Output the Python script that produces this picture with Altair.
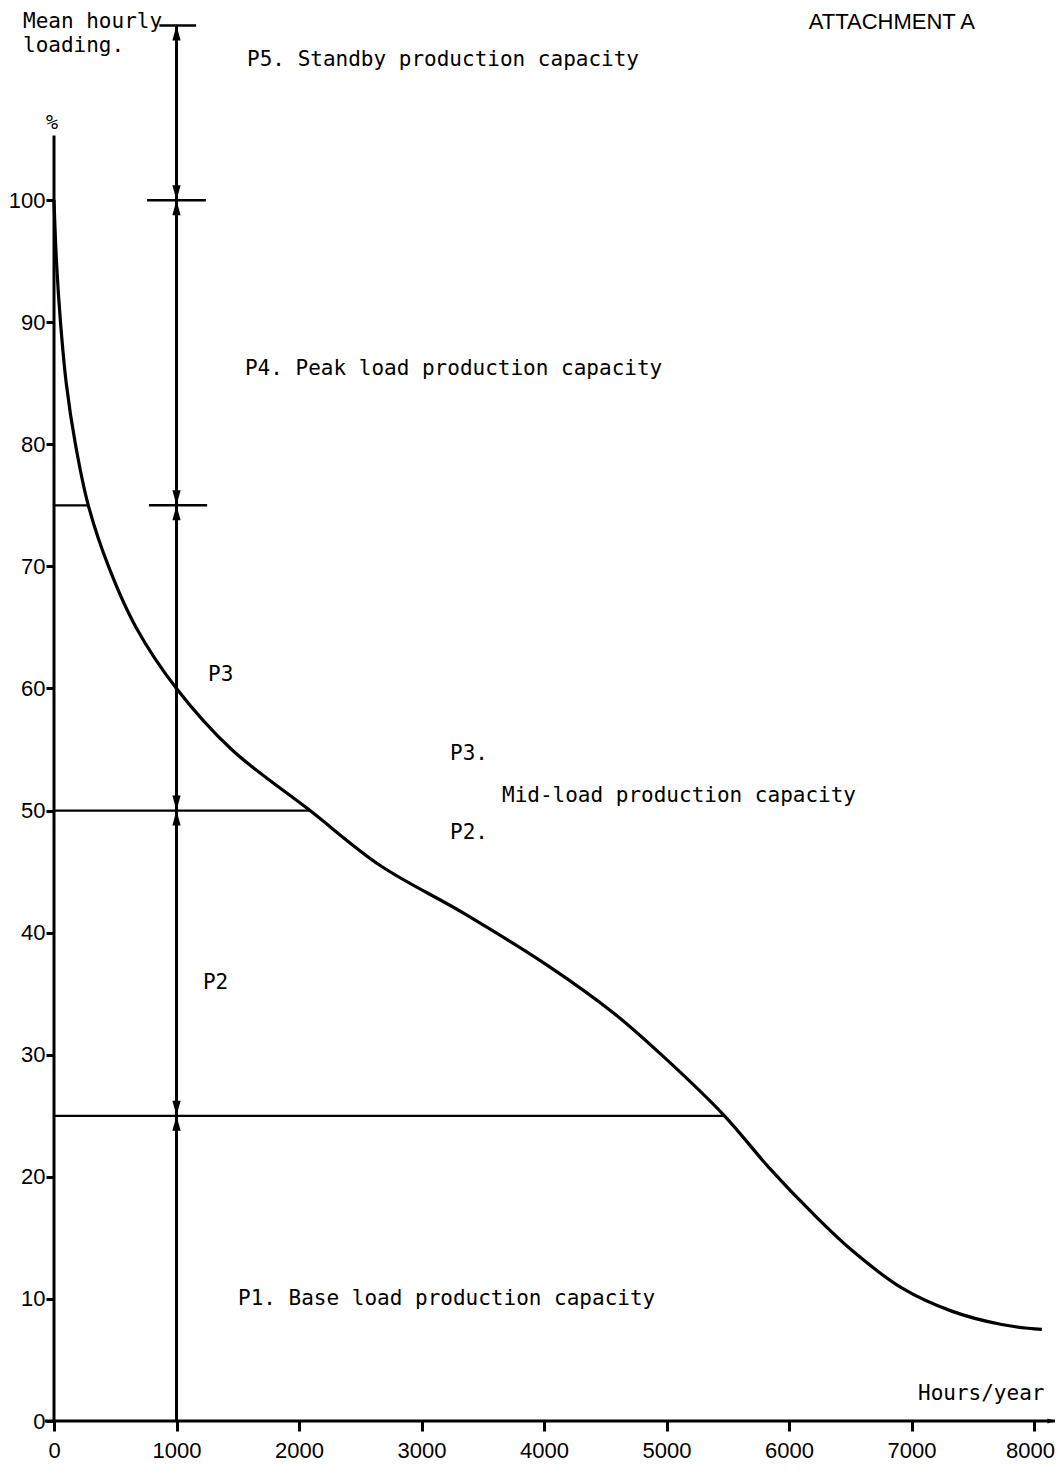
import altair as alt
import pandas as pd

# Load-duration curve (hours/year, mean hourly loading %)
curve_hours = [0, 20, 53, 100, 175, 280, 445, 670, 1000, 1450, 2090, 2663, 3343,
               4031, 4570, 4980, 5473, 5833, 6184, 6511, 6920, 7328, 7737, 8064]
curve_load = [100, 95, 90, 85, 80, 75, 70, 65, 60, 55, 50, 45.5, 41.6,
              37.3, 33.4, 29.8, 25, 20.8, 17.1, 14.0, 10.9, 9.0, 7.9, 7.5]

# Horizontal capacity boundaries, from the axis to the curve
level_pct = [75, 50, 25]
level_end_hours = [280, 2090, 5473]

# Vertical dimension line at 1000 h with its cross bars
marker_hours = 1000
marker_top = 114.3
bar_levels = [114.3, 100, 75]
bar_from = [860, 760, 775]
bar_to = [1160, 1240, 1250]

# Arrowheads on the dimension line
arrow_up_levels = [25, 50, 75, 100, 114.3]
arrow_down_levels = [25, 50, 75, 100]

# Axis lines
y_axis_top = 105.3
x_axis_from = -74
x_axis_to = 8175

x_ticks = [0, 1000, 2000, 3000, 4000, 5000, 6000, 7000, 8000]
y_ticks = [0, 10, 20, 30, 40, 50, 60, 70, 80, 90, 100]

# Annotations (hours, %, text)
note_text = ["Mean hourly", "loading.", "P5. Standby production capacity",
             "P4. Peak load production capacity", "P3", "P3.",
             "Mid-load production capacity", "P2.", "P2",
             "P1. Base load production capacity", "Hours/year"]
note_hours = [-253, -253, 1576, 1559, 1257, 3233, 3657, 3233, 1216, 1502, 7053]
note_pct = [114.55, 112.6, 111.5, 86.2, 61.1, 54.6, 51.2, 48.2, 35.9, 10.0, 2.25]

MONO = "DejaVu Sans Mono"
SANS = "Liberation Sans"

xs = alt.Scale(domain=[0, 8000], nice=False, zero=False)
ys = alt.Scale(domain=[0, 115], nice=False, zero=False)
x_axis = alt.Axis(values=x_ticks, format="d", title=None, grid=False, domain=False,
                  tickSize=10, tickWidth=3, tickColor="black",
                  labelFont=SANS, labelFontSize=22, labelColor="black",
                  labelPadding=9, labelFlush=False, labelOverlap=False,
                  labelOffset={"condition": {"test": "datum.value >= 8000", "value": -4},
                               "value": 0})
y_axis = alt.Axis(values=y_ticks, format="d", title=None, grid=False, domain=False,
                  tickSize=8, tickWidth=3, tickColor="black",
                  labelFont=SANS, labelFontSize=22, labelColor="black",
                  labelPadding=1, labelOverlap=False)


def X(f):
    return alt.X(f, type="quantitative", scale=xs, axis=x_axis)


def Y(f):
    return alt.Y(f, type="quantitative", scale=ys, axis=y_axis)


df_curve = pd.DataFrame({"h": curve_hours, "p": curve_load})
curve = alt.Chart(df_curve).mark_line(
    color="black", strokeWidth=3.2, interpolate="catmull-rom"
).encode(x=X("h"), y=Y("p"))

df_levels = pd.DataFrame({"h": [0] * len(level_pct), "h2": level_end_hours, "p": level_pct})
levels = alt.Chart(df_levels).mark_rule(color="black", strokeWidth=2.2).encode(
    x=X("h"), x2="h2", y=Y("p"))

df_bars = pd.DataFrame({"h": bar_from, "h2": bar_to, "p": bar_levels})
bars = alt.Chart(df_bars).mark_rule(color="black", strokeWidth=2.5).encode(
    x=X("h"), x2="h2", y=Y("p"))

df_vert = pd.DataFrame({"h": [marker_hours], "p": [0], "p2": [marker_top]})
vert = alt.Chart(df_vert).mark_rule(color="black", strokeWidth=3).encode(
    x=X("h"), y=Y("p"), y2="p2")

df_yax = pd.DataFrame({"h": [0], "p": [0], "p2": [y_axis_top]})
yax = alt.Chart(df_yax).mark_rule(color="black", strokeWidth=3).encode(
    x=X("h"), y=Y("p"), y2="p2")

df_xax = pd.DataFrame({"h": [x_axis_from], "h2": [x_axis_to], "p": [0]})
xax = alt.Chart(df_xax).mark_rule(color="black", strokeWidth=3).encode(
    x=X("h"), x2="h2", y=Y("p"))

df_xarrow = pd.DataFrame({"h": [x_axis_to], "p": [0]})
xarrow = alt.Chart(df_xarrow).mark_point(
    shape="M0,0L-2,-0.6L-2,0.6Z", size=64, filled=True, color="black",
    opacity=1, strokeWidth=0
).encode(x=X("h"), y=Y("p"))

df_up = pd.DataFrame({"h": [marker_hours] * len(arrow_up_levels), "p": arrow_up_levels})
arrows_up = alt.Chart(df_up).mark_point(
    shape="M0,0L0.55,2L-0.55,2Z", size=225, filled=True, color="black",
    opacity=1, strokeWidth=0
).encode(x=X("h"), y=Y("p"))

df_down = pd.DataFrame({"h": [marker_hours] * len(arrow_down_levels), "p": arrow_down_levels})
arrows_down = alt.Chart(df_down).mark_point(
    shape="M0,0L0.55,-2L-0.55,-2Z", size=225, filled=True, color="black",
    opacity=1, strokeWidth=0
).encode(x=X("h"), y=Y("p"))

df_notes = pd.DataFrame({"h": note_hours, "p": note_pct, "t": note_text})
notes = alt.Chart(df_notes).mark_text(
    align="left", baseline="middle", font=MONO, fontSize=21, color="black"
).encode(x=X("h"), y=Y("p"), text="t:N")

df_pct = pd.DataFrame({"h": [-16], "p": [106.3], "t": ["%"]})
pct = alt.Chart(df_pct).mark_text(
    align="center", baseline="middle", font=MONO, fontSize=20, color="black"
).encode(x=X("h"), y=Y("p"), text="t:N")

df_att = pd.DataFrame({"h": [7518], "p": [114.05], "t": ["ATTACHMENT A"]})
att = alt.Chart(df_att).mark_text(
    align="right", baseline="alphabetic", font=SANS, fontSize=22, color="black"
).encode(x=X("h"), y=Y("p"), text="t:N")

chart = alt.layer(
    levels, bars, vert, yax, xax, xarrow, curve, arrows_up, arrows_down,
    notes, pct, att
).properties(
    width=980, height=1404,
    padding={"left": 46, "top": 9, "right": 21, "bottom": 50},
    autosize=alt.AutoSizeParams(type="none"),
    background="white",
).configure_view(stroke=None)

chart.save("out.html", embed_options={"renderer": "svg", "actions": False})
